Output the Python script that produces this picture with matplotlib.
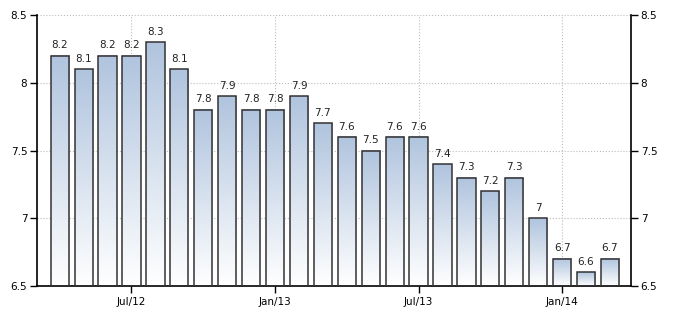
import numpy as np
from matplotlib import pyplot as plt
from matplotlib.colors import LinearSegmentedColormap

months = ['Apr/12', 'May/12', 'Jun/12', 'Jul/12', 'Aug/12', 'Sep/12',
          'Oct/12', 'Nov/12', 'Dec/12', 'Jan/13', 'Feb/13', 'Mar/13',
          'Apr/13', 'May/13', 'Jun/13', 'Jul/13', 'Aug/13', 'Sep/13',
          'Oct/13', 'Nov/13', 'Dec/13', 'Jan/14', 'Feb/14', 'Mar/14']
values = [8.2, 8.1, 8.2, 8.2, 8.3, 8.1, 7.8, 7.9, 7.8, 7.8, 7.9, 7.7,
          7.6, 7.5, 7.6, 7.6, 7.4, 7.3, 7.2, 7.3, 7.0, 6.7, 6.6, 6.7]
tick_months = ['Jul/12', 'Jan/13', 'Jul/13', 'Jan/14']
yticks = [6.5, 7, 7.5, 8, 8.5]

fig = plt.figure(figsize=(6.74, 3.14), dpi=100)
ax = fig.add_axes([0.0549, 0.0892, 0.8813, 0.8628])

base = 6.5
width = 0.76
x = np.arange(len(values))
cmap = LinearSegmentedColormap.from_list('bar', ['#ffffff', '#b0c4de'])
grad = np.linspace(1, 0, 256).reshape(-1, 1)

# gradient fill per bar, top is blue fading to white at the bottom
for xi, v in zip(x, values):
    ax.imshow(grad, extent=[xi - width / 2, xi + width / 2, base, v],
              aspect='auto', cmap=cmap, vmin=0, vmax=1, zorder=2)
ax.bar(x, np.array(values) - base, bottom=base, width=width,
       facecolor='none', edgecolor='#333333', linewidth=1.1, zorder=3)

for xi, v in zip(x, values):
    ax.text(xi, v + 0.04, '{:g}'.format(v), ha='center', va='bottom',
            fontsize=7.5, color='#222222')

ax.set_xlim(-0.95, 23.88)
ax.set_ylim(6.5, 8.5)
ax.set_yticks(yticks)
ax.set_yticklabels(['{:g}'.format(t) for t in yticks])
ax.set_xticks([months.index(m) for m in tick_months])
ax.set_xticklabels(tick_months)

ax.grid(True, linestyle=':', color='#bbbbbb', linewidth=0.8, zorder=0)
ax.set_axisbelow(True)
ax.spines['top'].set_visible(False)
for s in ['left', 'right', 'bottom']:
    ax.spines[s].set_color('black')
    ax.spines[s].set_linewidth(1.2)
ax.tick_params(axis='y', which='both', left=True, right=True,
               labelleft=True, labelright=True, length=5, width=1,
               labelsize=7.5, pad=2)
ax.tick_params(axis='x', length=5, width=1, labelsize=7.5, pad=3)

fig.savefig('out.png', dpi=100)
